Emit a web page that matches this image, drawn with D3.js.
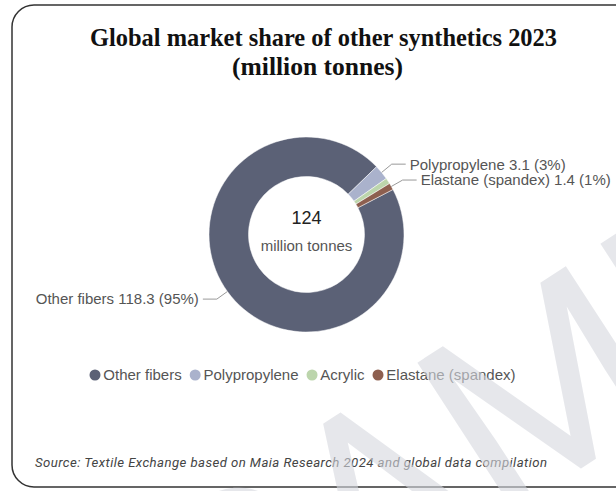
<!DOCTYPE html>
<head>
  <meta charset="utf-8">
  <style>
    body { margin: 0; background: #fff; }
    svg text { font-family: "Liberation Sans", Arial, sans-serif; }
    svg .title { font-family: "Liberation Serif", serif; font-weight: bold; fill: #111; }
    svg .lbl { font-size: 15px; fill: #555; }
    svg .leader { fill: none; stroke: #999; stroke-width: 1px; }
    svg .source { font-family: Roboto, sans-serif; font-style: italic; font-size: 13.2px; fill: #444; }
  </style>
</head>

<body>
<script src="https://cdnjs.cloudflare.com/ajax/libs/d3/7.8.5/d3.min.js"></script>

<script>
  // data
  var categories = ["Other fibers", "Polypropylene", "Acrylic", "Elastane (spandex)"];
  var values     = [118.3, 3.1, 1.2, 1.4];
  var percents   = ["95%", "3%", "1%", "1%"];
  var labelled   = [true, true, false, true];   // acrylic has no callout
  var colors     = ["#5b6176", "#aab2cc", "#bcd5ac", "#8d5f4f"];
  var total      = "124";

  var width = 616, height = 491;
  var cx = 306.5, cy = 234.5, rOut = 97.5, rIn = 58;

  var svg = d3.select("body")
    .append("svg")
      .attr("width", width)
      .attr("height", height);

  // card border
  svg.append("rect")
      .attr("x", 12).attr("y", 5)
      .attr("width", 640).attr("height", 482)
      .attr("rx", 22).attr("ry", 22)
      .style("fill", "#fff")
      .style("stroke", "#333")
      .style("stroke-width", "1.5px");

  // title
  svg.append("text").classed("title", true)
      .attr("x", 323.5).attr("y", 46)
      .attr("text-anchor", "middle")
      .attr("textLength", 467).attr("lengthAdjust", "spacingAndGlyphs")
      .style("font-size", "26px")
      .text("Global market share of other synthetics 2023");
  svg.append("text").classed("title", true)
      .attr("x", 317.5).attr("y", 75)
      .attr("text-anchor", "middle")
      .attr("textLength", 171).attr("lengthAdjust", "spacingAndGlyphs")
      .style("font-size", "26px")
      .text("(million tonnes)");

  // donut
  var start = 62.5 * Math.PI / 180;
  var pie = d3.pie().sort(null).startAngle(start).endAngle(start + 2 * Math.PI);
  var arcs = pie(values);

  var arc = d3.arc().innerRadius(rIn).outerRadius(rOut);
  var g = svg.append("g").attr("transform", "translate(" + cx + "," + cy + ")");

  g.selectAll("path.slice")
    .data(arcs)
    .enter().append("path")
      .classed("slice", true)
      .attr("d", arc)
      .style("fill", function (d, i) { return colors[i]; })
      .style("stroke", "#fff")
      .style("stroke-width", "0.5px");

  // callouts
  var len1 = 13, len2 = 14;
  function pt(a, r) { return [Math.sin(a) * r, -Math.cos(a) * r]; }

  var callouts = arcs.filter(function (d, i) { return labelled[i]; });
  callouts.forEach(function (d) {
    var i = d.index;
    var mid = (d.startAngle + d.endAngle) / 2;
    var p0 = pt(mid, rOut), p1 = pt(mid, rOut + len1);
    var right = Math.sin(mid) > 0;
    var p2 = [p1[0] + (right ? len2 : -len2), p1[1]];
    g.append("path").classed("leader", true)
      .attr("d", d3.line()([p0, p1, p2]));
    g.append("text").classed("lbl", true)
      .attr("x", p2[0] + (right ? 4 : -4))
      .attr("y", p2[1])
      .attr("dy", "0.36em")
      .attr("text-anchor", right ? "start" : "end")
      .text(categories[i] + " " + values[i] + " (" + percents[i] + ")");
  });

  // centre text
  g.append("text")
      .attr("x", 0).attr("y", -10.5)
      .attr("text-anchor", "middle")
      .style("font-size", "18px").style("fill", "#222")
      .text(total);
  g.append("text")
      .attr("x", 0).attr("y", 16.5)
      .attr("text-anchor", "middle")
      .style("font-size", "15px").style("fill", "#555")
      .text("million tonnes");

  // legend
  var legend = svg.append("g").attr("transform", "translate(0,375)");
  var lx = 89.5;
  categories.forEach(function (c, i) {
    legend.append("circle")
        .attr("cx", lx + 5.5).attr("cy", 0).attr("r", 5.5)
        .style("fill", colors[i]);
    var t = legend.append("text").classed("lbl", true)
        .attr("x", lx + 13.8).attr("y", 0).attr("dy", "0.36em")
        .text(c);
    lx = lx + 13.8 + t.node().getComputedTextLength() + 8;
  });

  // source
  svg.append("text").classed("source", true)
      .attr("x", 35).attr("y", 467)
      .attr("textLength", 512).attr("lengthAdjust", "spacing")
      .text("Source: Textile Exchange based on Maia Research 2024 and global data compilation");

  // watermark
  svg.append("text")
      .attr("transform", "translate(640,430) rotate(-33)")
      .attr("text-anchor", "middle")
      .style("font-family", "Roboto, sans-serif")
      .style("font-size", "250px")
      .style("fill", "#d6d8df")
      .style("opacity", 0.6)
      .text("SAMPLE");
</script>
</body>
</html>
